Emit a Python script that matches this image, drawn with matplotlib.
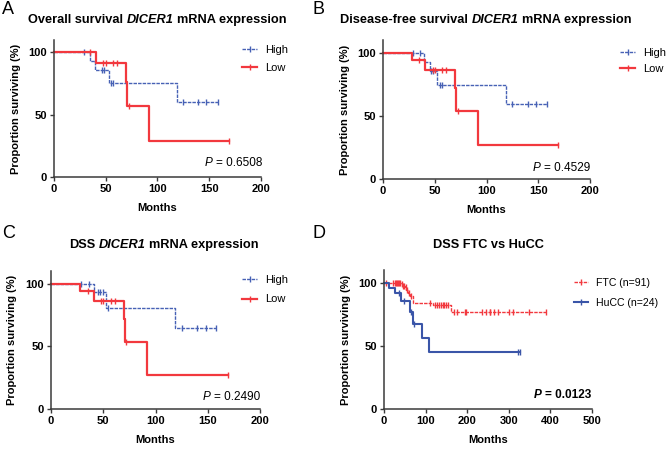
import numpy as np
import matplotlib.pyplot as plt
from matplotlib.lines import Line2D

plt.rcParams['font.family'] = ['Liberation Sans', 'DejaVu Sans']

#%% Data (times in months, survival in %)

# A - overall survival, DICER1 expression
a_high_t = [35, 40, 53, 119]
a_high_s = [93.3, 86.2, 75.2, 60.2]
a_high_c = [29, 46, 48, 55, 57, 125, 139, 147, 158]
a_low_t = [41, 70, 71, 92]
a_low_s = [91.7, 76.4, 57.3, 28.6]
a_low_c = [35, 47, 50, 57, 61, 72, 169]

# B - disease-free survival
b_high_t = [40, 45, 52, 119]
b_high_s = [92.3, 85.2, 74.0, 59.7]
b_high_c = [29, 36, 46, 48, 55, 57, 125, 140, 148, 158]
b_low_t = [28, 41, 70, 71, 92]
b_low_s = [93.8, 86.5, 72.0, 54.0, 27.0]
b_low_c = [35, 48, 50, 57, 61, 72, 169]

# C - DSS
c_high_t = [41, 53, 119]
c_high_s = [93.4, 80.6, 64.6]
c_high_c = [29, 36, 45, 47, 50, 55, 125, 140, 148, 158]
c_low_t = [28, 41, 70, 71, 92]
c_low_s = [93.9, 86.2, 72.0, 53.8, 26.9]
c_low_c = [35, 48, 50, 57, 61, 72, 169]

# D - DSS FTC vs HuCC
ftc_t = [40, 45, 50, 54, 58, 62, 69, 118, 160]
ftc_s = [98.9, 97.7, 96.6, 94.4, 92.1, 89.8, 84.1, 82.0, 76.8]
ftc_c = [6, 21, 27, 29, 31, 33, 36, 38, 43, 46, 48, 52, 56, 60, 65, 110,
         122, 127, 132, 137, 141, 145, 150, 155, 168, 176, 194, 197, 235,
         244, 254, 256, 265, 273, 300, 309, 349, 390]
hucc_t = [12, 27, 40, 62, 70, 92, 109]
hucc_s = [95.8, 91.7, 85.2, 77.1, 67.5, 56.2, 45.0]
hucc_c = [35, 47, 65, 72, 322, 327]

titles = [
    [("Overall survival", "normal"), ("DICER1", "italic"), ("mRNA expression", "normal")],
    [("Disease-free survival", "normal"), ("DICER1", "italic"), ("mRNA expression", "normal")],
    [("DSS", "normal"), ("DICER1", "italic"), ("mRNA expression", "normal")],
    [("DSS FTC vs HuCC", "normal")],
]
p_values = ["0.6508", "0.4529", "0.2490", "0.0123"]
letters = ["A", "B", "C", "D"]

#%% Styles

BLUE = '#4761b5'
RED = '#f2383e'
dashed_blue = dict(color=BLUE, lw=1.0, ls=(0, (2.5, 0.8)))
solid_red = dict(color=RED, lw=1.6, ls='-')
dashed_red = dict(color=RED, lw=1.0, ls=(0, (2.5, 0.8)))
solid_blue = dict(color='#3a55a8', lw=1.5, ls='-')

W, H = 667, 449
fig = plt.figure(figsize=(W / 100, H / 100), dpi=100)
renderer = fig.canvas.get_renderer()


def px_axes(x0, x1, y_bottom, y_top):
    # axes from pixel edges (y measured from the top of the figure)
    return fig.add_axes([x0 / W, 1 - y_bottom / H, (x1 - x0) / W, (y_bottom - y_top) / H])


def rich_text(x, y, parts, ha='center', **kw):
    # words with their own style, placed in a row (x, y in pixels from top-left)
    arts = [fig.text(0, 1 - y / H, s, fontstyle=st, va='center', ha='left', **kw)
            for s, st in parts]
    p1 = fig.text(0, 0, 'a a', **kw)
    p2 = fig.text(0, 0, 'aa', **kw)
    sp = p1.get_window_extent(renderer).width - p2.get_window_extent(renderer).width
    p1.remove()
    p2.remove()
    widths = [a.get_window_extent(renderer).width for a in arts]
    total = sum(widths) + sp * (len(arts) - 1)
    start = x - total / 2 if ha == 'center' else x - total
    for a, w in zip(arts, widths):
        a.set_x(start / W)
        start += w + sp


def km(ax, times, levels, cens, end, style):
    times = np.asarray(times, float)
    lev = np.concatenate([[100.0], levels])
    x = np.concatenate([[0], times, [end]])
    y = np.concatenate([lev, [lev[-1]]])
    ax.step(x, y, where='post', clip_on=False, **style)
    cens = np.asarray(cens, float)
    cy = lev[np.searchsorted(times, cens, side='right')]
    ax.plot(cens, cy, ls='none', marker='|', ms=4, mew=1.0,
            color=style['color'], clip_on=False)


def style_axes(ax, xmax, xstep):
    ax.set_xlim(0, xmax)
    ax.set_ylim(0, 110)
    ax.set_xticks(np.arange(0, xmax + 1, xstep))
    ax.set_yticks([0, 50, 100])
    for s in ['top', 'right']:
        ax.spines[s].set_visible(False)
    for s in ['left', 'bottom']:
        ax.spines[s].set_color('#3a3a3a')
        ax.spines[s].set_linewidth(1.1)
    ax.tick_params(direction='out', length=3, width=1.0, pad=2,
                   color='#3a3a3a', labelsize=8)
    for lab in ax.get_xticklabels() + ax.get_yticklabels():
        lab.set_fontweight('bold')
    ax.set_xlabel("Months", fontsize=8, fontweight='bold')
    ax.set_ylabel("Proportion surviving (%)", fontsize=8, fontweight='bold')
    ax.xaxis.set_label_coords(0.5, -0.225)
    ax.xaxis.label.set_va('center')
    ax.yaxis.set_label_coords(-0.185, 0.5)
    ax.yaxis.label.set_va('center')


def legend(ax, handles, labels, x, y, size=8, spacing=0.75):
    ax.legend(handles, labels, loc='upper left', bbox_to_anchor=(x / W, 1 - y / H),
              bbox_transform=fig.transFigure, frameon=False, fontsize=size,
              borderpad=0, borderaxespad=0, handlelength=1.35,
              handletextpad=0.7, labelspacing=spacing, numpoints=1)


def handle(style):
    return Line2D([], [], marker='|', ms=4, mew=1.0, **style)


#%% Panels

axA = px_axes(54, 261, 177, 40)
km(axA, a_high_t, a_high_s, a_high_c, 158, dashed_blue)
km(axA, a_low_t, a_low_s, a_low_c, 169, solid_red)
style_axes(axA, 200, 50)
legend(axA, [handle(dashed_blue), handle(solid_red)], ["High", "Low"], 242, 45)

axB = px_axes(383, 590, 179, 40)
km(axB, b_high_t, b_high_s, b_high_c, 158, dashed_blue)
km(axB, b_low_t, b_low_s, b_low_c, 169, solid_red)
style_axes(axB, 200, 50)
legend(axB, [handle(dashed_blue), handle(solid_red)], ["High", "Low"], 620, 48, spacing=0.55)

axC = px_axes(51, 260, 409, 271)
km(axC, c_high_t, c_high_s, c_high_c, 158, dashed_blue)
km(axC, c_low_t, c_low_s, c_low_c, 169, solid_red)
style_axes(axC, 200, 50)
legend(axC, [handle(dashed_blue), handle(solid_red)], ["High", "Low"], 242, 275, spacing=0.85)

axD = px_axes(384, 592, 409, 270)
km(axD, ftc_t, ftc_s, ftc_c, 390, dashed_red)
km(axD, hucc_t, hucc_s, hucc_c, 327, solid_blue)
style_axes(axD, 500, 100)
legend(axD, [handle(dashed_red), handle(solid_blue)], ["FTC (n=91)", "HuCC (n=24)"],
       574, 278, size=7.6, spacing=0.95)

# titles, p values, panel letters
title_pos = [(157, 20), (486, 20), (164, 245), (488, 245)]
p_pos = [(262, 163), (590, 168), (260, 397), (591, 395)]
letter_pos = [(2, 9), (313, 9), (2, 234), (313, 234)]

for i in range(4):
    tx, ty = title_pos[i]
    rich_text(tx, ty, titles[i], ha='center', fontsize=9.2, fontweight='bold')
    px, py = p_pos[i]
    wt = 'bold' if i == 3 else 'normal'
    rich_text(px, py, [("P", "italic"), ("= " + p_values[i], "normal")],
              ha='right', fontsize=8.5, fontweight=wt)
    lx, ly = letter_pos[i]
    fig.text(lx / W, 1 - ly / H, letters[i], fontsize=13, va='center', ha='left')

fig.savefig("out.png", dpi=100)
